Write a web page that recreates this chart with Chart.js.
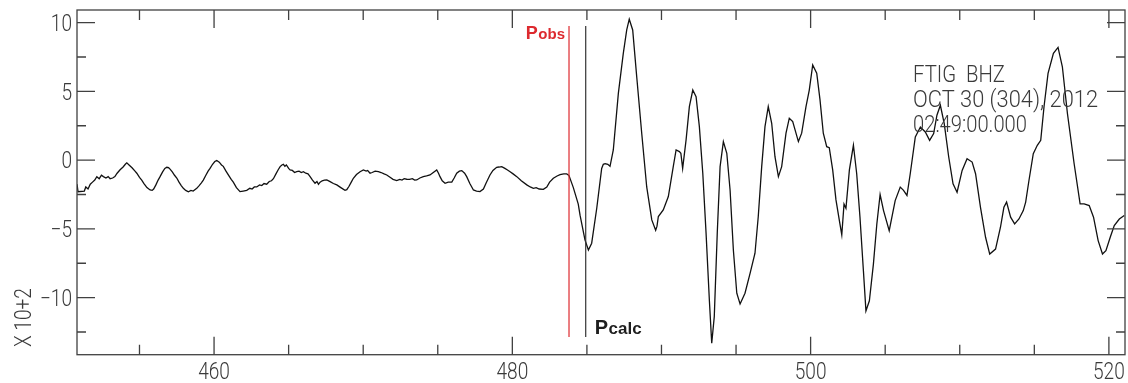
<!DOCTYPE html>
<html><head><meta charset="utf-8">
<script src="https://cdn.jsdelivr.net/npm/chart.js@4.4.1/dist/chart.umd.min.js"></script>
<style>html,body{margin:0;padding:0;background:#fff;}#wrap{width:1128px;height:383px;position:relative;}</style>
</head><body><div id="wrap"><canvas id="c"></canvas></div>
<script>
// ---- data (time in s, amplitude in units of 10^2) ----
const seismogram = [
[450.81,-1.75],[450.88,-2.3],[451.30,-2.25],[451.40,-1.95],[451.55,-2.1],[451.70,-1.75],[451.85,-1.6],[452.00,-1.45],[452.14,-1.2],[452.30,-1.35],[452.45,-1.1],[452.58,-1.2],[452.75,-1.3],[452.90,-1.2],[453.03,-1.35],[453.20,-1.3],[453.35,-1.2],[453.50,-0.95],[453.70,-0.7],[453.90,-0.5],[454.05,-0.3],[454.15,-0.2],[454.30,-0.35],[454.50,-0.55],[454.70,-0.8],[454.82,-0.95],[455.00,-1.25],[455.15,-1.45],[455.30,-1.7],[455.50,-2.0],[455.71,-2.17],[455.85,-2.2],[455.95,-2.1],[456.10,-1.8],[456.25,-1.45],[456.38,-1.2],[456.55,-0.85],[456.70,-0.6],[456.83,-0.52],[456.95,-0.55],[457.05,-0.65],[457.20,-0.85],[457.35,-1.1],[457.50,-1.3],[457.65,-1.6],[457.80,-1.85],[457.94,-2.05],[458.10,-2.2],[458.28,-2.3],[458.45,-2.2],[458.60,-2.25],[458.84,-2.05],[459.00,-1.85],[459.15,-1.65],[459.28,-1.45],[459.45,-1.1],[459.60,-0.8],[459.73,-0.6],[459.90,-0.3],[460.05,-0.1],[460.18,-0.03],[460.35,-0.15],[460.50,-0.35],[460.62,-0.45],[460.80,-0.8],[461.00,-1.15],[461.15,-1.4],[461.29,-1.6],[461.50,-2.0],[461.74,-2.29],[461.95,-2.25],[462.19,-2.2],[462.40,-2.05],[462.55,-2.1],[462.70,-1.95],[462.86,-1.95],[463.05,-1.8],[463.20,-1.85],[463.35,-1.7],[463.53,-1.75],[463.70,-1.55],[463.85,-1.5],[463.98,-1.35],[464.15,-1.0],[464.30,-0.7],[464.43,-0.47],[464.55,-0.35],[464.65,-0.3],[464.75,-0.45],[464.85,-0.35],[465.00,-0.6],[465.10,-0.71],[465.25,-0.75],[465.40,-0.9],[465.54,-0.84],[465.70,-0.8],[465.85,-0.9],[465.99,-0.84],[466.15,-0.95],[466.30,-1.0],[466.44,-1.2],[466.60,-1.45],[466.77,-1.68],[466.90,-1.55],[467.00,-1.75],[467.11,-1.6],[467.25,-1.5],[467.40,-1.45],[467.56,-1.44],[467.78,-1.56],[468.00,-1.7],[468.23,-1.8],[468.50,-2.0],[468.78,-2.2],[468.90,-2.15],[469.05,-1.9],[469.20,-1.6],[469.34,-1.32],[469.55,-1.05],[469.79,-0.84],[470.01,-0.71],[470.20,-0.8],[470.30,-0.75],[470.46,-0.95],[470.60,-0.9],[470.80,-0.8],[471.02,-0.84],[471.20,-0.9],[471.40,-1.0],[471.58,-1.08],[471.80,-1.25],[472.00,-1.4],[472.25,-1.49],[472.45,-1.4],[472.60,-1.45],[472.75,-1.35],[472.92,-1.39],[473.10,-1.4],[473.30,-1.35],[473.45,-1.45],[473.59,-1.44],[473.80,-1.3],[474.03,-1.2],[474.25,-1.15],[474.48,-1.08],[474.70,-0.9],[474.93,-0.71],[475.05,-0.95],[475.15,-1.2],[475.30,-1.5],[475.49,-1.68],[475.70,-1.6],[475.94,-1.6],[476.10,-1.3],[476.27,-0.95],[476.45,-0.8],[476.61,-0.76],[476.80,-0.95],[476.94,-1.2],[477.15,-1.7],[477.39,-2.17],[477.60,-2.25],[477.83,-2.29],[478.06,-2.1],[478.25,-1.65],[478.50,-1.08],[478.70,-0.75],[478.95,-0.52],[479.10,-0.5],[479.29,-0.47],[479.50,-0.6],[479.65,-0.7],[479.85,-0.84],[480.05,-1.0],[480.30,-1.2],[480.60,-1.5],[480.97,-1.8],[481.20,-1.95],[481.41,-2.05],[481.60,-2.0],[481.80,-2.1],[482.08,-2.12],[482.31,-1.95],[482.50,-1.6],[482.75,-1.32],[483.00,-1.15],[483.20,-1.05],[483.45,-1.0],[483.65,-1.0],[483.80,-1.12],
[484.09,-2.0],[484.42,-3.2],[484.54,-4.0],[484.87,-5.8],[485.10,-6.53],[485.32,-6.04],[485.66,-3.5],[485.99,-0.6],[486.10,-0.3],[486.22,-0.25],[486.40,-0.3],[486.55,-0.45],[486.77,0.74],[487.11,4.87],[487.44,7.77],[487.67,9.47],[487.84,10.25],[488.07,9.47],[488.34,6.07],[488.68,1.9],[489.01,-1.95],[489.35,-4.35],[489.61,-5.1],[489.70,-4.8],[489.79,-4.1],[490.12,-3.62],[490.46,-2.65],[490.79,-0.47],[490.98,0.74],[491.20,0.62],[491.30,0.5],[491.42,-0.6],[491.65,1.47],[491.87,3.89],[492.10,5.1],[492.32,4.62],[492.54,2.44],[492.77,-0.95],[492.99,-5.32],[493.21,-10.17],[493.37,-13.32],[493.54,-11.38],[493.74,-5.32],[493.93,-0.47],[494.15,1.35],[494.38,0.5],[494.60,-2.17],[494.82,-6.53],[495.05,-9.68],[495.27,-10.46],[495.60,-9.68],[495.94,-8.23],[496.27,-6.77],[496.49,-4.1],[496.72,-0.47],[496.94,2.44],[497.16,3.89],[497.39,2.68],[497.61,0.25],[497.84,-1.2],[498.06,-0.47],[498.35,1.96],[498.57,3.05],[498.80,2.8],[499.18,1.35],[499.40,1.96],[499.69,3.89],[499.91,5.1],[500.14,6.92],[500.41,6.32],[500.63,4.38],[500.85,1.96],[501.08,0.98],[501.25,0.9],[501.48,-0.71],[501.70,-2.89],[501.92,-4.35],[502.09,-5.44],[502.24,-3.2],[502.37,-3.5],[502.60,-0.71],[502.87,1.08],[503.09,-0.99],[503.31,-4.15],[503.54,-8.04],[503.71,-10.96],[503.94,-10.23],[504.21,-7.56],[504.44,-4.64],[504.66,-2.5],[504.89,-3.67],[505.27,-5.13],[505.67,-2.94],[506.01,-1.96],[506.23,-2.2],[506.46,-2.57],[506.68,-0.99],[507.02,1.69],[507.36,2.41],[507.69,2.05],[507.98,1.44],[508.25,1.93],[508.47,3.27],[508.70,3.99],[508.96,2.66],[509.26,0.23],[509.55,-1.72],[509.82,-2.33],[510.16,-0.75],[510.49,0.1],[510.83,-0.14],[511.06,-0.99],[511.39,-3.43],[511.73,-5.61],[512.01,-6.83],[512.40,-6.47],[512.73,-4.88],[512.96,-3.43],[513.14,-3.05],[513.41,-4.15],[513.68,-4.64],[513.97,-4.28],[514.26,-3.67],[514.42,-3.05],[514.64,-1.48],[514.93,0.47],[515.20,1.08],[515.43,1.44],[515.65,3.88],[515.92,6.31],[516.28,7.77],[516.59,8.2],[516.88,6.79],[517.22,3.39],[517.67,-0.26],[518.07,-3.18],[518.34,-3.18],[518.68,-3.3],[518.97,-4.15],[519.28,-5.85],[519.57,-6.83],[519.80,-6.58],[520.09,-5.61],[520.36,-4.76],[520.70,-4.28],[521.03,-4.03]
];
const xRange = [450.81, 521.08];
const yRange = [-14.15, 10.92];
const xTickValues = [460, 480, 500, 520];
const xTickLabels = ['460', '480', '500', '520'];
const xMinorTicks = [455, 465, 470, 475, 485, 490, 495, 505, 510, 515];
const yTickValues = [10, 5, 0, -5, -10];
const yTickLabels = ['10', '5', '0', '\u22125', '\u221210'];
const yMinorTicks = [7.5, 2.5, -2.5, -7.5, -12.5];
const pObsTime = 483.80;
const pCalcTime = 484.92;
const markerSpan = [9.76, -12.86];
const headerLines = ['FTIG  BHZ', 'OCT 30 (304), 2012', '02:49:00.000'];
const yAxisNote = 'X 10+2';

const THIN = '300 23px Roboto, "Open Sans", "Liberation Sans", sans-serif';
const CONDENSE = 0.83;

function drawCondensed(ctx, text, x, y, sx, align) {
  ctx.save();
  ctx.translate(x, y);
  ctx.scale(sx, 1);
  ctx.textAlign = align;
  ctx.fillText(text, 0, 0);
  ctx.restore();
}

const decorPlugin = {
  id: 'decor',
  afterDatasetsDraw(chart) {
    const {ctx, chartArea: a, scales: {x, y}} = chart;
    ctx.save();
    // frame
    ctx.strokeStyle = '#404040';
    ctx.lineWidth = 1.3;
    ctx.strokeRect(a.left, a.top, a.right - a.left, a.bottom - a.top);
    // inward ticks on all sides
    ctx.beginPath();
    const tx = (v, len) => { const p = x.getPixelForValue(v);
      ctx.moveTo(p, a.bottom); ctx.lineTo(p, a.bottom - len);
      ctx.moveTo(p, a.top); ctx.lineTo(p, a.top + len); };
    const ty = (v, len) => { const p = y.getPixelForValue(v);
      ctx.moveTo(a.left, p); ctx.lineTo(a.left + len, p);
      ctx.moveTo(a.right, p); ctx.lineTo(a.right - len, p); };
    xTickValues.forEach(v => tx(v, 18));
    xMinorTicks.forEach(v => tx(v, 10));
    yTickValues.forEach(v => ty(v, 18));
    yMinorTicks.forEach(v => ty(v, 9));
    ctx.stroke();

    // tick labels (condensed, positioned by the scales)
    ctx.fillStyle = '#3a3a3a';
    ctx.font = THIN;
    ctx.textBaseline = 'alphabetic';
    xTickValues.forEach((v, i) => drawCondensed(ctx, xTickLabels[i], x.getPixelForValue(v), a.bottom + 23.8, CONDENSE, 'center'));
    yTickValues.forEach((v, i) => drawCondensed(ctx, yTickLabels[i], a.left - 5, y.getPixelForValue(v) + 8.2, CONDENSE, 'right'));

    // vertical axis note
    ctx.save();
    ctx.translate(31, 347);
    ctx.rotate(-Math.PI / 2);
    drawCondensed(ctx, yAxisNote, 0, 0, CONDENSE, 'left');
    ctx.restore();

    // station header, each line fitted to its width in the reference
    const headerWidths = [92, 185, 114];
    const base = [81.7, 106.8, 132.3];
    headerLines.forEach((t, i) => {
      const w = ctx.measureText(t).width;
      drawCondensed(ctx, t, 913, base[i], headerWidths[i] / w, 'left');
    });

    // phase labels
    const po = x.getPixelForValue(pObsTime);
    const pc = x.getPixelForValue(pCalcTime);
    ctx.fillStyle = '#dd2a2f';
    ctx.font = 'bold 15px "Liberation Sans", Arial, sans-serif';
    const obsW = ctx.measureText('obs').width;
    ctx.font = 'bold 18px "Liberation Sans", Arial, sans-serif';
    const pW = ctx.measureText('P').width;
    const obsRight = po - 4;
    ctx.textAlign = 'left';
    ctx.fillText('P', obsRight - obsW - pW - 0.5, 39.3);
    ctx.font = 'bold 15px "Liberation Sans", Arial, sans-serif';
    ctx.fillText('obs', obsRight - obsW, 39.3);

    ctx.fillStyle = '#1e1e1e';
    ctx.font = 'bold 20px "Liberation Sans", Arial, sans-serif';
    ctx.fillText('P', pc + 9, 334);
    const pcW = ctx.measureText('P').width;
    ctx.font = 'bold 17px "Liberation Sans", Arial, sans-serif';
    ctx.fillText('calc', pc + 9 + pcW + 0.5, 334);

    ctx.restore();
  }
};

new Chart(document.getElementById('c'), {
  type: 'line',
  data: {
    datasets: [
      { label: 'FTIG BHZ', data: seismogram.map(p => ({x: p[0], y: p[1]})),
        borderColor: '#111', borderWidth: 1.3, pointRadius: 0, tension: 0, order: 2 },
      { label: 'Pobs', data: markerSpan.map(v => ({x: pObsTime, y: v})),
        borderColor: '#dd2a2f', borderWidth: 1.2, pointRadius: 0, order: 1 },
      { label: 'Pcalc', data: markerSpan.map(v => ({x: pCalcTime, y: v})),
        borderColor: '#333', borderWidth: 1.2, pointRadius: 0, order: 1 }
    ]
  },
  options: {
    responsive: true, maintainAspectRatio: false, animation: false, devicePixelRatio: 1,
    layout: { padding: { top: 10, right: 3, bottom: 0, left: 0 } },
    plugins: { legend: { display: false }, tooltip: { enabled: false } },
    scales: {
      x: {
        type: 'linear', min: xRange[0], max: xRange[1],
        afterBuildTicks: s => { s.ticks = xTickValues.map(v => ({value: v})); },
        afterFit: s => { s.height = 28.3; },
        grid: { display: false, drawTicks: false },
        border: { display: false },
        ticks: { display: false }
      },
      y: {
        type: 'linear', min: yRange[0], max: yRange[1],
        afterBuildTicks: s => { s.ticks = yTickValues.map(v => ({value: v})); },
        afterFit: s => { s.width = 77; },
        grid: { display: false, drawTicks: false },
        border: { display: false },
        ticks: { display: false }
      }
    }
  },
  plugins: [decorPlugin]
});
</script>
</body></html>
